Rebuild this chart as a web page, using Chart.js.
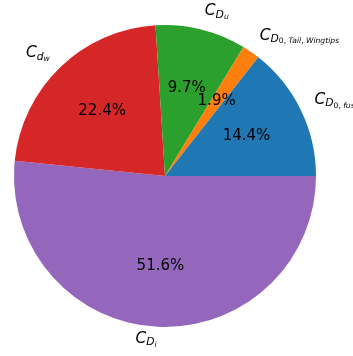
<!DOCTYPE html>
<html>
<head>
<meta charset="utf-8">
<script src="https://cdn.jsdelivr.net/npm/chart.js@4/dist/chart.umd.min.js"></script>
<style>
  html, body { margin: 0; padding: 0; background: #fff; }
  #pie { display: block; }
</style>
</head>
<body>
<canvas id="pie" width="353" height="356"></canvas>
<script>
// drag components, counterclockwise from 3 o'clock (matplotlib order)
const categories = ['C_D0,fus', 'C_D0,Tail,Wingtips', 'C_Du', 'C_dw', 'C_Di'];
const shares = [14.4, 1.9, 9.7, 22.4, 51.6];
const colors = ['#1f77b4', '#ff7f0e', '#2ca02c', '#d62728', '#9467bd'];
// label pieces: [text, level] where level 0 = base, 1 = subscript, 2 = sub-subscript
const labelParts = [
    [['C', 0], ['D', 1], ['0, fus', 2]],
    [['C', 0], ['D', 1], ['0, Tail, Wingtips', 2]],
    [['C', 0], ['D', 1], ['u', 2]],
    [['C', 0], ['d', 1], ['w', 2]],
    [['C', 0], ['D', 1], ['i', 2]]
];

const FONT = '"DejaVu Sans", sans-serif';
const baseSize = 15.5;
const sizes = [baseSize, baseSize * 0.7, baseSize * 0.49];
const drops = [0, 2.5, 3.8];

function runs(text) {
    // letters italic, digits/punctuation upright (like mathtext)
    let out = [];
    for (const ch of text) {
        const it = /[A-Za-z]/.test(ch);
        if (out.length && out[out.length - 1].it === it) out[out.length - 1].t += ch;
        else out.push({t: ch, it: it});
    }
    return out;
}

function layoutLabel(ctx, parts) {
    let pieces = [];
    let w = 0, top = 0, bottom = 0;
    parts.forEach(([text, lvl]) => {
        runs(text).forEach(r => {
            const font = (r.it ? 'italic ' : '') + sizes[lvl] + 'px ' + FONT;
            ctx.font = font;
            const m = ctx.measureText(r.t);
            pieces.push({t: r.t, font: font, x: w, dy: drops[lvl]});
            w += m.width;
            top = Math.min(top, drops[lvl] - m.actualBoundingBoxAscent);
            bottom = Math.max(bottom, drops[lvl] + m.actualBoundingBoxDescent);
        });
    });
    return {pieces, w, top, bottom};
}

const pieLabels = {
    id: 'pieLabels',
    afterDatasetsDraw(chart) {
        const ctx = chart.ctx;
        const meta = chart.getDatasetMeta(0);
        const n = shares.length;
        ctx.save();
        ctx.fillStyle = '#000';
        meta.data.forEach((arc, j) => {
            const i = n - 1 - j; // data was reversed for clockwise drawing
            const mid = (arc.startAngle + arc.endAngle) / 2;
            const r = arc.outerRadius;
            // percentage
            ctx.font = '15px ' + FONT;
            ctx.textAlign = 'center';
            ctx.textBaseline = 'middle';
            ctx.fillText(shares[i].toFixed(1) + '%', arc.x + 0.6 * r * Math.cos(mid), arc.y + 0.6 * r * Math.sin(mid));
            // outside label
            const lx = arc.x + 1.1 * r * Math.cos(mid);
            const ly = arc.y + 1.1 * r * Math.sin(mid);
            const L = layoutLabel(ctx, labelParts[i]);
            const x0 = Math.cos(mid) >= 0 ? lx : lx - L.w;
            const baseY = ly - (L.top + L.bottom) / 2;
            ctx.textAlign = 'left';
            ctx.textBaseline = 'alphabetic';
            L.pieces.forEach(p => {
                ctx.font = p.font;
                ctx.fillText(p.t, x0 + p.x, baseY + p.dy);
            });
        });
        ctx.restore();
    }
};

new Chart(document.getElementById('pie'), {
    type: 'pie',
    data: {
        labels: categories.slice().reverse(),
        datasets: [{
            data: shares.slice().reverse(),
            backgroundColor: colors.slice().reverse(),
            borderWidth: 0,
            hoverOffset: 0,
            offset: 0
        }]
    },
    options: {
        responsive: false,
        devicePixelRatio: 1,
        animation: false,
        rotation: 90,
        layout: {padding: {left: 14, right: 37, top: 25, bottom: 29}},
        plugins: {
            legend: {display: false},
            tooltip: {enabled: false}
        }
    },
    plugins: [pieLabels]
});
</script>
</body>
</html>
